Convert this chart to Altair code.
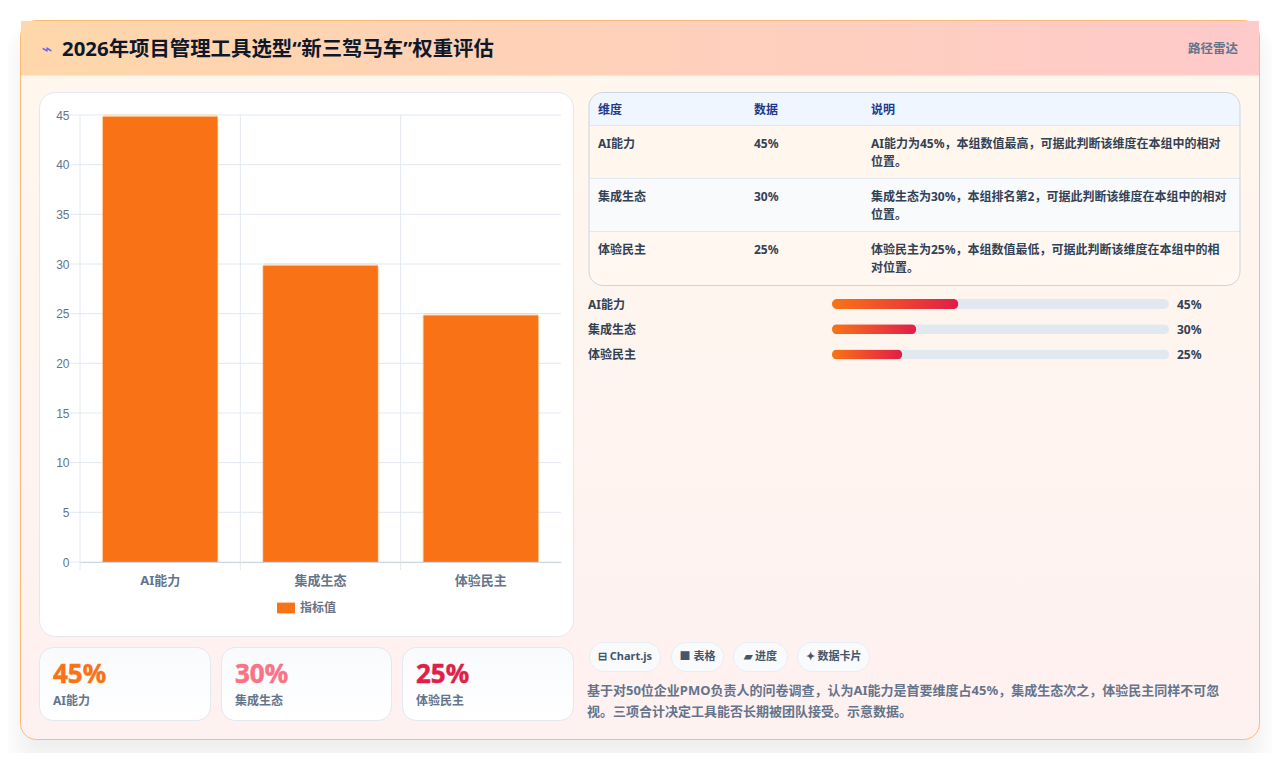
import altair as alt
import pandas as pd

# values
categories = ["AI能力", "集成生态", "体验民主"]
values = [45, 30, 25]
y_ticks = [0, 5, 10, 15, 20, 25, 30, 35, 40, 45]
series_name = "指标值"
value_labels = ["45%", "30%", "25%"]
kpi_colors = ["#f97316", "#fb7185", "#e11d48"]

title_text = "2026年项目管理工具选型“新三驾马车”权重评估"
title_icon = "⌁"
subtitle_text = "路径雷达"
table_header = ["维度", "数据", "说明"]
table_notes = [
    ["AI能力为45%\uff0c本组数值最高\uff0c可据此判断该维度在本组中的相对", "位置。"],
    ["集成生态为30%\uff0c本组排名第2\uff0c可据此判断该维度在本组中的相对", "位置。"],
    ["体验民主为25%\uff0c本组数值最低\uff0c可据此判断该维度在本组中的相", "对位置。"],
]
chip_texts = ["⊟ Chart.js", "■ 表格", "▰ 进度", "✦ 数据卡片"]
desc_lines = [
    "基于对50位企业PMO负责人的问卷调查\uff0c认为AI能力是首要维度占45%\uff0c集成生态次之\uff0c体验民主同样不可忽",
    "视。三项合计决定工具能否长期被团队接受。示意数据。",
]

FONT = "Noto Sans, Noto Sans CJK SC"
OX, OY = 80, 115  # page position of the bar chart's plot origin
PLOT_W, PLOT_H = 481, 447
ORANGE = "#f97316"

df = pd.DataFrame({"name": categories, "value": values, "series": series_name, "label": value_labels})
df["full"] = 120
df_ticks = pd.DataFrame({"tick": y_ticks})
one = pd.DataFrame({"a": [0]})


def vgrad(top, bottom):
    return alt.Gradient(gradient="linear", stops=[alt.GradientStop(color=top, offset=0), alt.GradientStop(color=bottom, offset=1)], x1=0, x2=0, y1=0, y2=1)


def hgrad(left, right):
    return alt.Gradient(gradient="linear", stops=[alt.GradientStop(color=left, offset=0), alt.GradientStop(color=right, offset=1)], x1=0, x2=1, y1=0, y2=0)


def box(x0, y0, x1, y1, fill, stroke=None, radius=0, **kw):
    opts = {"fill": fill, "cornerRadius": radius, **kw}
    if stroke:
        opts.update(stroke=stroke, strokeWidth=1)
    return alt.Chart(one).mark_rect(**opts).encode(
        x=alt.value(x0 - OX), x2=alt.value(x1 - OX), y=alt.value(y0 - OY), y2=alt.value(y1 - OY)
    )


def label(x, y, text, size=12, color="#334155", weight="normal", font=FONT, align="left", **kw):
    return alt.Chart(one).mark_text(
        font=font, fontSize=size, color=color, fontWeight=weight, align=align, baseline="middle", **kw
    ).encode(x=alt.value(x - OX), y=alt.value(y - OY), text=alt.value(text))


layers = []

# soft card shadow
for grow in range(16, -16, -2):
    layers.append(box(20 - grow, 38 - grow, 1260 + grow, 758 + grow, "#000000", radius=max(16 + grow, 0), opacity=0.005))

# card and header
layers.append(box(20.5, 20.5, 1259.5, 739.5, vgrad("#fff7ed", "#fef1f1"), "#fdba74", 16))
layers.append(box(21, 21, 1259, 75, hgrad("#fed7aa", "#fecaca")))
layers.append(box(21, 75, 1259, 76, "#f3e8df"))
layers.append(label(47, 50, title_icon, size=18, color="#6366f1", font="DejaVu Sans", align="center"))
layers.append(label(62, 50, title_text, size=20.4, color="#0f172a", weight="bold"))
layers.append(label(1238, 48.5, subtitle_text, size=12.5, color="#64748b", weight="bold", align="right"))

# chart panel
layers.append(box(39.5, 92.5, 573.5, 636.5, "#ffffff", "#e2e8f0", 16))

# grid lines
layers.append(
    alt.Chart(df_ticks).mark_rule(color="#e2e8f0", strokeWidth=1).encode(
        y=alt.Y("tick:Q", scale=alt.Scale(domain=[0, 45]), axis=None),
        x=alt.value(-10),
        x2=alt.value(PLOT_W),
    )
)
layers.append(
    alt.Chart(df).mark_rule(color="#e2e8f0", strokeWidth=1).encode(
        x=alt.X("name:N", bandPosition=0, sort=categories,
                scale=alt.Scale(domain=categories, paddingInner=0, paddingOuter=0), axis=None),
        y=alt.value(0),
        y2=alt.value(PLOT_H + 8),
    )
)

# bars
layers.append(
    alt.Chart(df).mark_bar(
        stroke="#fdba74", strokeWidth=1, strokeOpacity=0.5, cornerRadiusTopLeft=3, cornerRadiusTopRight=3, yOffset=1.5
    ).encode(
        x=alt.X(
            "name:N", sort=categories, title=None,
            scale=alt.Scale(domain=categories, paddingInner=0.28, paddingOuter=0.14),
            axis=alt.Axis(
                labelAngle=0, labelFont=FONT, labelFontSize=13, labelFontWeight="bold", labelColor="#64748b",
                labelPadding=12, domainColor="#cbd5e1", ticks=False, grid=False, zindex=1,
            ),
        ),
        y=alt.Y(
            "value:Q", title=None, scale=alt.Scale(domain=[0, 45]),
            axis=alt.Axis(
                values=y_ticks, labelFont="Liberation Sans", labelFontSize=12, labelColor="#64748b",
                labelPadding=11, domain=False, ticks=False, grid=False, zindex=1,
            ),
        ),
        color=alt.Color(
            "series:N", title=None,
            scale=alt.Scale(domain=[series_name], range=[ORANGE]),
            legend=alt.Legend(
                orient="none", legendX=277 - OX, legendY=599 - OY,
                symbolType="M-1,-0.6H1V0.6H-1Z", symbolSize=324, symbolStrokeWidth=0, labelOffset=5,
                labelFont=FONT, labelFontSize=12, labelFontWeight="bold", labelColor="#6b7280", zindex=1,
            ),
        ),
    )
)

# kpi cards
kpi_x = [(39.5, 210.5), (221.5, 391.5), (402.5, 573.5)]
for (x0, x1), name, text, color in zip(kpi_x, categories, value_labels, kpi_colors):
    layers.append(box(x0, 647.5, x1, 720.5, vgrad("#f8fafc", "#ffffff"), "#e2e8f0", 14))
    layers.append(label(x0 + 13.5, 675, text, size=26, color=color, weight="bold", stroke=color, strokeWidth=0.5))
    layers.append(label(x0 + 13.5, 701, name, size=12, color="#64748b", weight="bold"))

# table
layers.append(box(589, 93, 1240, 285, "#fff7f0", radius=14))
layers.append(box(589, 93, 1240, 125.5, "#eff6ff", cornerRadiusTopLeft=14, cornerRadiusTopRight=14))
layers.append(box(589, 126, 1240, 178.5, "#fff7ed"))
layers.append(box(589, 179, 1240, 231.5, "#f8fafc"))
for sep in (125.5, 178.5, 231.5):
    layers.append(box(589, sep - 0.5, 1240, sep + 0.5, "#e2e8f0"))
layers.append(box(589, 92.5, 1240, 285.5, "transparent", "#cbd5e1", 14))
col_x = [598, 754, 871]
for x, text in zip(col_x, table_header):
    layers.append(label(x, 110, text, size=12, color="#1e3a8a", weight="bold"))
for row_y, name, text, note in zip((144, 197, 250), categories, value_labels, table_notes):
    layers.append(label(col_x[0], row_y, name, weight="bold"))
    layers.append(label(col_x[1], row_y, text, weight="bold"))
    layers.append(label(col_x[2], row_y, note[0], weight="bold"))
    layers.append(label(col_x[2], row_y + 18, note[1], weight="bold"))

# progress rows
bar_x = alt.Scale(domain=[0, 120], range=[832 - OX, 1169 - OX])
bar_y = alt.Scale(type="point", domain=categories, range=[304 - OY, 354.5 - OY], padding=0)
layers.append(
    alt.Chart(df).mark_bar(size=10, cornerRadius=5, fill="#e2e8f0").encode(
        x=alt.X("full:Q", scale=bar_x, axis=None), y=alt.Y("name:N", scale=bar_y, axis=None)
    )
)
layers.append(
    alt.Chart(df).mark_bar(size=10, cornerRadius=5, fill=hgrad("#f97316", "#e11d48")).encode(
        x=alt.X("value:Q", scale=bar_x, axis=None), y=alt.Y("name:N", scale=bar_y, axis=None)
    )
)
layers.append(
    alt.Chart(df).mark_text(font=FONT, fontSize=12, fontWeight="bold", color="#334155", align="left", dy=0.5).encode(
        x=alt.value(588 - OX), y=alt.Y("name:N", scale=bar_y, axis=None), text="name:N"
    )
)
layers.append(
    alt.Chart(df).mark_text(font=FONT, fontSize=12, fontWeight="bold", color="#334155", align="left", dy=0.5).encode(
        x=alt.value(1177 - OX), y=alt.Y("name:N", scale=bar_y, axis=None), text="label:N"
    )
)

# chips
chip_x = [(589, 661), (671, 724), (733, 788), (797, 870)]
for (x0, x1), text in zip(chip_x, chip_texts):
    layers.append(box(x0 + 0.5, 642.5, x1 - 0.5, 671.5, "#f8fafc", "#e8eef5", 14.5))
    layers.append(label((x0 + x1) / 2, 657, text, size=11, color="#475569", weight="bold", align="center"))

# description
for y, line in zip((691, 712), desc_lines):
    layers.append(label(587, y, line, size=13, color="#64748b", weight="bold"))

chart = (
    alt.layer(*layers)
    .resolve_scale(x="independent", y="independent", color="independent")
    .properties(
        width=PLOT_W,
        height=PLOT_H,
        autosize=alt.AutoSizeParams(type="none"),
        padding={"left": OX - 8, "top": OY - 8, "right": 1264 - (OX - 8) - PLOT_W, "bottom": 745 - (OY - 8) - PLOT_H},
        background="#ffffff",
    )
    .configure_view(stroke=None)
)

chart.save("out.html", embed_options={"renderer": "svg", "actions": False})
